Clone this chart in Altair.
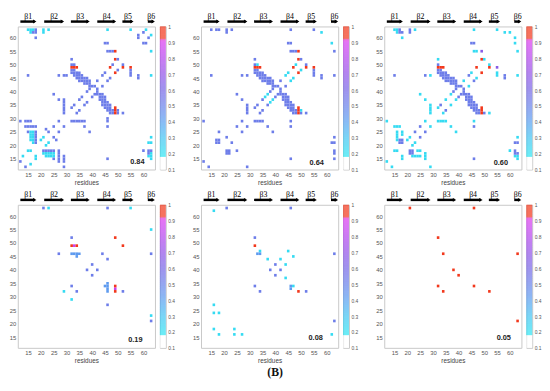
import altair as alt
import numpy as np
import pandas as pd

# colour levels
CY, CB, LB, BL, PU, MG, RD = 0.22, 0.30, 0.42, 0.52, 0.66, 0.86, 0.97

SCORES = ["0.84", "0.64", "0.60", "0.19", "0.08", "0.05"]

STRAND_NAMES = ["β1", "β2", "β3", "β4", "β5", "β6"]
STRAND_START = [12.0, 21.3, 31.7, 42.0, 51.8, 61.7]
STRAND_END = [18.2, 29.0, 39.0, 49.3, 56.1, 64.4]

TICKS = [15, 20, 25, 30, 35, 40, 45, 50, 55, 60]
CBAR_TICKS = [0.1, 0.2, 0.3, 0.4, 0.5, 0.6, 0.7, 0.8, 0.9, 1.0]

# beta3-beta4 hairpin contacts (upper triangle), shared by the three dense maps
HAIRPIN = [
    (32, 48), (33, 48),
    (32, 47), (33, 47), (34, 47), (35, 47),
    (33, 46), (34, 46), (35, 46), (36, 46),
    (34, 45), (35, 45), (36, 45), (37, 45), (38, 45),
    (35, 44), (36, 44), (37, 44), (38, 44), (39, 44),
    (37, 43), (38, 43), (39, 43),
    (39, 42), (40, 42), (41, 42),
    (39, 41),
]

P1 = [
    (15, 63, CY), (16, 63, CY), (17, 63, CY), (16, 62, CY), (17, 62, BL), (18, 62, BL), (18, 63, BL), (18, 60, BL),
    (21, 63, CY), (21, 62, CY), (23, 63, CY), (46, 63, CY), (55, 63, CY), (61, 63, CY),
    (58, 60, BL), (58, 61, BL), (60, 62, BL),
    (45, 58, BL), (46, 58, BL), (46, 55, BL), (47, 55, BL), (48, 55, BL), (49, 55, RD),
    (49, 52, RD), (50, 52, BL), (47, 49, RD), (48, 50, BL),
    (32, 52, BL), (32, 50, BL), (33, 50, BL), (32, 49, RD), (33, 49, RD), (34, 49, RD),
    (15, 46, BL), (27, 46, BL), (29, 46, BL), (30, 46, BL),
    (25, 39, BL), (27, 37, BL),
    (29, 32, BL), (29, 33, BL), (29, 34, BL), (29, 35, BL), (29, 36, BL), (29, 37, BL),
    (12, 29, BL), (14, 29, BL), (15, 29, BL), (16, 29, BL),
    (14, 27, BL), (15, 27, BL), (16, 27, BL), (17, 27, BL), (18, 27, BL),
    (15, 25, BL), (16, 25, CY), (17, 25, CY), (18, 25, BL), (16, 24, CY), (17, 24, CY), (18, 24, BL),
    (16, 23, CY), (17, 23, CY), (18, 23, BL), (16, 22, CY), (17, 22, CY), (18, 22, BL), (17, 21, CY), (18, 21, BL),
    (15, 18, CY), (16, 18, CY), (13, 16, CY), (12, 14, BL),
    (20, 22, CY), (21, 23, CY), (23, 25, BL), (22, 26, BL), (25, 27, BL), (27, 29, BL),
    (32, 34, BL), (33, 35, BL), (35, 37, BL), (36, 38, BL), (38, 40, BL), (40, 42, BL),
    (42, 44, BL), (44, 46, BL), (45, 47, BL),
]

P2 = [
    (15, 63, BL), (17, 63, BL), (18, 63, BL), (21, 63, BL), (21, 62, BL), (23, 63, BL),
    (46, 63, BL), (55, 63, BL), (58, 62, CY),
    (45, 58, BL), (46, 58, BL), (46, 55, BL), (47, 55, BL), (48, 55, BL), (49, 55, RD),
    (49, 52, RD), (50, 52, BL), (47, 49, RD), (48, 50, CY),
    (32, 52, BL), (32, 50, BL), (33, 50, CY), (32, 49, RD), (33, 49, RD), (34, 49, RD),
    (15, 46, BL), (27, 46, BL), (29, 46, BL),
    (25, 39, BL), (27, 37, BL),
    (29, 32, BL), (29, 33, BL), (29, 34, BL), (29, 35, BL),
    (12, 29, BL), (12, 14, BL),
    (17, 21, BL), (18, 21, BL), (17, 22, BL), (18, 22, BL),
    (18, 25, BL), (21, 23, BL), (25, 27, BL), (27, 29, BL),
    (32, 34, BL), (33, 35, BL), (35, 37, BL), (36, 38, CY), (37, 39, CY), (38, 40, BL),
    (40, 42, BL), (42, 44, BL), (44, 46, CY), (45, 47, CY),
]

P3 = [
    (15, 63, CY), (16, 63, CY), (16, 62, CY), (17, 62, BL), (18, 62, BL), (17, 63, BL), (18, 60, CY),
    (21, 63, BL), (21, 62, BL), (23, 63, CY), (46, 63, CY), (55, 63, CY), (58, 62, CY), (60, 62, CY),
    (45, 58, BL), (46, 58, BL), (46, 55, CY), (47, 55, CY), (49, 55, PU),
    (49, 52, RD), (47, 49, RD), (50, 52, CY),
    (32, 52, CY), (32, 50, BL), (32, 49, RD), (33, 49, RD), (34, 49, RD),
    (15, 46, BL), (27, 46, BL), (29, 46, CY),
    (25, 39, CY), (27, 37, CY),
    (29, 32, CY), (29, 33, CY), (29, 34, CY), (29, 35, CY),
    (12, 29, CY), (12, 14, CY),
    (15, 27, CY), (16, 27, CY), (17, 27, CY),
    (17, 21, BL), (18, 21, BL), (17, 22, BL), (18, 22, BL),
    (16, 25, CY), (16, 24, CY), (16, 23, CY), (18, 25, CY), (18, 24, CY), (16, 22, CY),
    (15, 18, CY), (16, 18, CY),
    (20, 22, CY), (21, 23, CY), (23, 25, BL), (25, 27, BL), (27, 29, CY),
    (32, 34, CY), (33, 35, BL), (35, 37, CY), (37, 39, CY), (38, 40, BL), (40, 42, BL),
    (42, 44, CY), (44, 46, BL), (45, 47, CY),
]

P4 = [
    (21, 63, BL), (23, 63, CY), (46, 63, BL), (55, 63, CY),
    (32, 52, BL), (32, 49, RD), (33, 49, MG), (34, 49, RD), (49, 52, RD),
    (27, 46, BL), (32, 46, LB), (33, 46, LB), (34, 46, LB), (35, 46, LB), (34, 45, LB),
    (44, 46, BL), (38, 40, BL), (40, 42, BL), (32, 34, BL), (29, 32, CY),
]

P5 = [
    (16, 18, CY), (16, 24, CY), (18, 24, CY), (16, 27, CY), (16, 62, CY),
    (21, 63, BL), (46, 63, BL), (32, 52, BL), (32, 49, RD),
    (34, 47, CY), (33, 46, LB), (34, 46, LB), (37, 44, CY),
    (38, 40, BL), (40, 42, BL), (42, 44, CY), (45, 47, CY), (32, 34, BL),
]

P6 = [(21, 63, RD), (46, 63, RD), (32, 52, RD), (34, 46, RD), (38, 40, RD), (32, 34, RD)]

PANELS = [
    [(x, y, BL) for x, y in HAIRPIN] + P1,
    [(x, y, BL) for x, y in HAIRPIN] + P2,
    [(x, y, BL) for x, y in HAIRPIN] + P3,
    P4, P5, P6,
]

# layout (pixels)
W, H = 140, 146
SCORE_X = [122, 118, 119, 120, 117, 122]
SCORE_Y = [138, 139, 139, 138, 136, 136]

CDOM = [0.1, 0.178, 0.18, 0.3, 0.4, 0.5, 0.6, 0.7, 0.8, 0.9, 0.915, 0.925, 1.0]
CRANGE = ["#ffffff", "#ffffff", "#2ee6f2", "#44c4f2", "#5aa0f0", "#6a82ea", "#7868e6",
          "#9354e8", "#b446ee", "#d83cf0", "#e03ad8", "#f2381c", "#f2381c"]
cscale = alt.Scale(domain=CDOM, range=CRANGE, interpolate="rgb", clamp=True, zero=False, nice=False)
xs = alt.Scale(domain=[11, 64.5], nice=False, zero=False)
ys = alt.Scale(domain=[11, 64.2], nice=False, zero=False)
XAX = alt.Axis(values=TICKS, title="residues")

strand_df = pd.DataFrame({"name": STRAND_NAMES, "s": STRAND_START, "e": STRAND_END})


def cells_df(cells):
    d = {}
    for x, y, v in cells:
        d[(x, y)] = v
        d[(y, x)] = v
    return pd.DataFrame([{"x": k[0], "y": k[1], "v": v} for k, v in d.items()])


def panel(i):
    df = cells_df(PANELS[i])
    heat = alt.Chart(df).transform_calculate(
        x0="datum.x - 0.5", x1="datum.x + 0.5", y0="datum.y - 0.5", y1="datum.y + 0.5"
    ).mark_rect().encode(
        x=alt.X("x0:Q", scale=xs, axis=XAX),
        x2="x1:Q",
        y=alt.Y("y0:Q", scale=ys, axis=alt.Axis(values=TICKS, title=None)),
        y2="y1:Q",
        color=alt.Color("v:Q", scale=cscale, legend=None),
    )
    sb = alt.Chart(strand_df).transform_calculate(e2="datum.e - 0.6", m="(datum.s + datum.e) / 2")
    bars = sb.mark_rule(strokeWidth=2.5).encode(
        x=alt.X("s:Q", scale=xs, axis=XAX), x2="e2:Q", y=alt.value(-5),
        color=alt.value("#000000"))
    heads = sb.mark_point(shape="triangle-right", filled=True, size=16, opacity=1).encode(
        x=alt.X("e2:Q", scale=xs, axis=XAX), y=alt.value(-5), color=alt.value("#000000"))
    labels = sb.mark_text(font="Liberation Serif", fontSize=8, baseline="alphabetic").encode(
        x=alt.X("m:Q", scale=xs, axis=XAX), y=alt.value(-8), text="name:N",
        color=alt.value("#000000"))
    score = alt.Chart(pd.DataFrame({"t": [SCORES[i]]})).mark_text(
        font="Liberation Sans", fontSize=7.5, fontWeight="bold").encode(
        x=alt.value(SCORE_X[i]), y=alt.value(SCORE_Y[i]), text="t:N", color=alt.value("#222222"))
    layer = alt.layer(heat, bars, heads, labels, score).properties(width=W, height=H)

    cb_df = pd.DataFrame({"v": np.round(np.arange(0.1, 1.0, 0.0025), 4)})
    cbar = alt.Chart(cb_df).transform_calculate(v2="datum.v + 0.0025").mark_rect().encode(
        y=alt.Y("v:Q", scale=alt.Scale(domain=[0.1, 1.0], nice=False, zero=False),
                axis=alt.Axis(orient="right", values=CBAR_TICKS, format=".1~f", labelFontSize=5,
                              title=None)),
        y2="v2:Q",
        color=alt.Color("v:Q", scale=cscale, legend=None),
    ).properties(width=6, height=H)
    return alt.hconcat(layer, cbar, spacing=3).resolve_scale(x="independent", y="independent")


row1 = alt.hconcat(panel(0), panel(1), panel(2), spacing=16).resolve_scale(x="independent", y="independent")
row2 = alt.hconcat(panel(3), panel(4), panel(5), spacing=16).resolve_scale(x="independent", y="independent")

chart = alt.vconcat(row1, row2, spacing=4).resolve_scale(x="independent", y="independent").properties(
    padding={"left": 0, "top": 0, "right": 0, "bottom": 0},
    title=alt.TitleParams("(B)", orient="bottom", anchor="middle", font="Liberation Serif",
                          fontSize=12, fontWeight="bold", color="#111", offset=3),
).configure_view(stroke="#c8c8c8").configure_axis(
    labelFont="Liberation Sans", labelFontSize=6, labelColor="#555", ticks=False, domain=False,
    grid=False, labelPadding=2, titleFont="Liberation Sans", titleFontSize=6.5,
    titleFontWeight="normal", titleColor="#444", titlePadding=2,
)

chart.save("out.html", embed_options={"renderer": "svg", "actions": False})
